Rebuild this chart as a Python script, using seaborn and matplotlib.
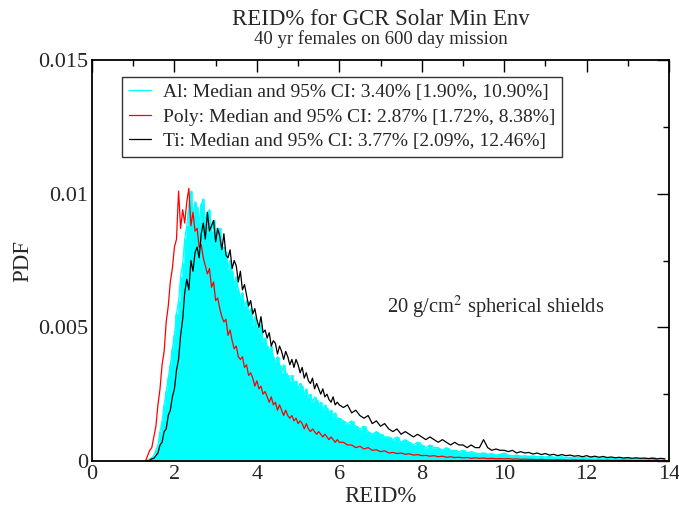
import numpy as np
import pandas as pd
import matplotlib
matplotlib.use("Agg")
import matplotlib.pyplot as plt
import seaborn as sns
from matplotlib.ticker import MultipleLocator

# ---------------- data ----------------
# fine grid 1.30 .. 5.95 (step 0.05), coarse grid 6.0 .. 13.9 (step 0.1)
reid_fine = np.round(np.arange(130, 600, 5) / 100.0, 2)
reid_coarse = np.round(np.arange(60, 140, 1) / 10.0, 2)

al_fine = [
    0.0, 0.00003, 0.00008, 0.00012, 0.0002, 0.0004, 0.0006, 0.0011, 0.0015, 0.0021,
    0.0026, 0.0031, 0.0036, 0.0042, 0.0047, 0.0055, 0.0060, 0.0069, 0.0074, 0.0083,
    0.0088, 0.0096, 0.0101, 0.0092, 0.0097, 0.0095, 0.0089, 0.0096, 0.0098, 0.0090,
    0.0093, 0.0094, 0.0086, 0.0090, 0.0087, 0.0084, 0.0087, 0.0079, 0.0080, 0.0078,
    0.0072, 0.0075, 0.0071, 0.0066, 0.0069, 0.0064, 0.0061, 0.0063, 0.0058, 0.0060,
    0.0055, 0.0057, 0.0051, 0.0054, 0.0050, 0.0048, 0.0051, 0.0045, 0.0046, 0.0043,
    0.0041, 0.0043, 0.0039, 0.0037, 0.0039, 0.0036, 0.0033, 0.0036, 0.0033, 0.0032,
    0.0030, 0.0032, 0.0029, 0.0030, 0.0027, 0.0029, 0.0028, 0.0025, 0.0027, 0.0024,
    0.0025, 0.0022, 0.0024, 0.0023, 0.0021, 0.0022, 0.0019, 0.0021, 0.0020, 0.0018,
    0.0019, 0.0017, 0.0018, 0.0016,
]
al_coarse = [
    0.0016, 0.0015, 0.0014, 0.0015, 0.0013, 0.0012, 0.0013, 0.0011, 0.0010, 0.0011,
    0.0010, 0.0009, 0.0009, 0.0008, 0.0009, 0.0007, 0.0008, 0.0007, 0.0006, 0.0007,
    0.0006, 0.0005, 0.0006, 0.0005, 0.0005, 0.0004, 0.0005, 0.0004, 0.0004, 0.00035,
    0.0004, 0.0003, 0.00035, 0.0003, 0.00028, 0.0003, 0.00025, 0.00028, 0.00022, 0.00025,
    0.0003, 0.00022, 0.0002, 0.00022, 0.00018, 0.0002, 0.00017, 0.00019, 0.00016, 0.00017,
    0.00015, 0.00017, 0.00014, 0.00015, 0.00016, 0.00013, 0.00014, 0.00012, 0.00013, 0.00014,
    0.00011, 0.00013, 0.00012, 0.0001, 0.00012, 0.00011, 0.0001, 0.00012, 0.0001, 0.00009,
    0.00011, 0.00009, 0.0001, 0.00008, 0.0001, 0.00009, 0.00014, 0.00008, 0.00009, 0.00008,
]

poly_fine = [
    0.0, 0.0002, 0.0004, 0.0005, 0.0009, 0.0013, 0.0021, 0.0027, 0.0036, 0.0041,
    0.0052, 0.0058, 0.0067, 0.0072, 0.0080, 0.0083, 0.0101, 0.0087, 0.0094, 0.0089,
    0.0097, 0.0102, 0.0088, 0.0093, 0.0086, 0.0087, 0.0080, 0.0081, 0.0076, 0.0073,
    0.0070, 0.0072, 0.0065, 0.0067, 0.0060, 0.0061, 0.0057, 0.0054, 0.0052, 0.0053,
    0.0047, 0.0049, 0.0045, 0.0042, 0.0043, 0.0039, 0.0038, 0.0039, 0.0035, 0.0036,
    0.0032, 0.0033, 0.0031, 0.0028, 0.0030, 0.0027, 0.0028, 0.0025, 0.0026, 0.0024,
    0.0022, 0.0024, 0.0021, 0.0022, 0.0019, 0.0021, 0.0019, 0.0017, 0.0019, 0.0017,
    0.0016, 0.0017, 0.0015, 0.0016, 0.0014, 0.0015, 0.0014, 0.0012, 0.0014, 0.0012,
    0.0011, 0.0012, 0.0011, 0.0010, 0.0011, 0.0010, 0.0009, 0.0010, 0.0009, 0.0008,
    0.0009, 0.0008, 0.0007, 0.0008,
]
poly_coarse = [
    0.0007, 0.0007, 0.0006, 0.0006, 0.0005, 0.00055, 0.00045, 0.0005, 0.0004, 0.00042,
    0.00035, 0.00038, 0.0003, 0.00032, 0.00028, 0.0003, 0.00025, 0.00027, 0.00022, 0.00024,
    0.0002, 0.00021, 0.00018, 0.0002, 0.00016, 0.00018, 0.00014, 0.00016, 0.00013, 0.00014,
    0.00012, 0.00013, 0.0001, 0.00012, 0.0001, 0.00011, 0.00009, 0.0001, 0.00008, 0.00009,
    0.00008, 0.00009, 0.00007, 0.00008, 0.00006, 0.00007, 0.00006, 0.00006, 0.00005, 0.00006,
    0.00005, 0.00005, 0.00004, 0.00005, 0.00004, 0.00004, 0.00003, 0.00004, 0.00003, 0.00004,
    0.00003, 0.00003, 0.00002, 0.00003, 0.00002, 0.00003, 0.00002, 0.00002, 0.00002, 0.00003,
    0.00002, 0.00002, 0.00001, 0.00002, 0.00001, 0.00002, 0.00001, 0.00002, 0.00001, 0.00002,
]

ti_fine = [
    0.0, 0.0, 0.00003, 0.00008, 0.0001, 0.0002, 0.0003, 0.0006, 0.0007, 0.0011,
    0.0012, 0.0017, 0.0019, 0.0024, 0.0027, 0.0034, 0.0038, 0.0047, 0.0053, 0.0063,
    0.0068, 0.0064, 0.0075, 0.0071, 0.0078, 0.0080, 0.0076, 0.0085, 0.0089, 0.0083,
    0.0093, 0.0086, 0.0088, 0.0090, 0.0082, 0.0087, 0.0084, 0.0079, 0.0085, 0.0077,
    0.0076, 0.0079, 0.0072, 0.0075, 0.0073, 0.0067, 0.0071, 0.0064, 0.0066, 0.0062,
    0.0058, 0.0060, 0.0055, 0.0057, 0.0053, 0.0050, 0.0054, 0.0048, 0.0049, 0.0046,
    0.0048, 0.0043, 0.0045, 0.0044, 0.0040, 0.0043, 0.0041, 0.0038, 0.0041, 0.0039,
    0.0036, 0.0038, 0.0035, 0.0038, 0.0036, 0.0033, 0.0035, 0.0031, 0.0033, 0.0030,
    0.0029, 0.0031, 0.0027, 0.0029, 0.0027, 0.0025, 0.0027, 0.0024, 0.0025, 0.0023,
    0.0022, 0.0024, 0.0021, 0.0022,
]
ti_coarse = [
    0.0021, 0.0020, 0.0021, 0.0018, 0.0019, 0.0017, 0.0016, 0.0017, 0.0014, 0.0015,
    0.0013, 0.0014, 0.0012, 0.0011, 0.0012, 0.0010, 0.0011, 0.0010, 0.0009, 0.0010,
    0.0009, 0.0008, 0.0009, 0.0008, 0.0007, 0.0008, 0.0007, 0.0006, 0.0007, 0.0006,
    0.0006, 0.0005, 0.0006, 0.0005, 0.0005, 0.0008, 0.0005, 0.0004, 0.00045, 0.0004,
    0.0004, 0.00035, 0.0004, 0.0003, 0.00035, 0.0003, 0.00032, 0.00026, 0.0003, 0.00024,
    0.00028, 0.00022, 0.00025, 0.0002, 0.00024, 0.0002, 0.00022, 0.00018, 0.0002, 0.00016,
    0.0002, 0.00015, 0.00018, 0.00014, 0.00017, 0.00013, 0.00015, 0.00012, 0.00014, 0.00011,
    0.00013, 0.0001, 0.00012, 0.0001, 0.00011, 0.00009, 0.0001, 0.00008, 0.0001, 0.00008,
]

labels = [
    "Al: Median and 95% CI: 3.40% [1.90%, 10.90%]",
    "Poly: Median and 95% CI: 2.87% [1.72%, 8.38%]",
    "Ti: Median and 95% CI: 3.77% [2.09%, 12.46%]",
]
colors = ["#00ffff", "#ff0000", "#000000"]

x_ticks_major = np.arange(0, 15, 2)
y_ticks_major = [0, 0.005, 0.01, 0.015]
y_tick_labels = ["0", "0.005", "0.01", "0.015"]

# ---------------- build tables ----------------
reid = np.concatenate([reid_fine, reid_coarse])
series = {
    labels[0]: np.concatenate([al_fine, al_coarse]),
    labels[1]: np.concatenate([poly_fine, poly_coarse]),
    labels[2]: np.concatenate([ti_fine, ti_coarse]),
}
df = pd.concat(
    [pd.DataFrame({"REID": reid, "PDF": v, "series": k}) for k, v in series.items()],
    ignore_index=True,
)

# ---------------- style ----------------
sns.set_theme(style="white")
plt.rcParams["font.family"] = ["Liberation Serif", "DejaVu Serif"]
plt.rcParams["mathtext.fontset"] = "stix"

fig = plt.figure(figsize=(6.79, 5.09), dpi=100)
ax = fig.add_axes([0.1355, 0.0943, 0.8498, 0.7878])

# cyan filled Al distribution
ax.fill_between(reid, series[labels[0]], step="mid", facecolor=colors[0],
                edgecolor=colors[0], lw=0.4, zorder=1)

sns.lineplot(
    data=df, x="REID", y="PDF", hue="series", hue_order=labels,
    palette=colors, estimator=None, sort=True, linewidth=0.9, ax=ax, zorder=2,
)

ax.set_xlim(0, 14)
ax.set_ylim(0, 0.015)
ax.set_xticks(x_ticks_major)
ax.set_yticks(y_ticks_major)
ax.set_yticklabels(y_tick_labels)
ax.xaxis.set_minor_locator(MultipleLocator(1))
ax.yaxis.set_minor_locator(MultipleLocator(0.0025))
ax.tick_params(which="both", direction="in", top=True, right=True, color="black",
               labelsize=16, width=1.0)
ax.tick_params(which="major", length=8.5, pad=3)
ax.tick_params(which="minor", length=4.5)
for s in ax.spines.values():
    s.set_color("black")
    s.set_linewidth(1.3)

ax.set_xlabel("REID%", fontsize=16.5, labelpad=1)
ax.set_ylabel("PDF", fontsize=16.5, labelpad=3)

fig.text(0.5605, 1 - 25 / 509, "REID% for GCR Solar Min Env", ha="center",
         va="baseline", fontsize=16.5)
fig.text(0.5605, 1 - 44 / 509, "40 yr females on 600 day mission", ha="center",
         va="baseline", fontsize=13.5)

ax.text(0.512, 0.385, r"20 g/cm$^2$ spherical shields", transform=ax.transAxes,
        fontsize=14.8, ha="left", va="center")

leg = ax.legend(loc="upper left", bbox_to_anchor=(0.052, 0.958), borderaxespad=0,
                fontsize=14, frameon=True, fancybox=False, edgecolor="black",
                handlelength=1.15, handletextpad=0.62, borderpad=0.35, labelspacing=0.35,
                title=None)
leg.get_frame().set_linewidth(1.0)
leg.set_zorder(5)

fig.savefig("out.png", dpi=100)
